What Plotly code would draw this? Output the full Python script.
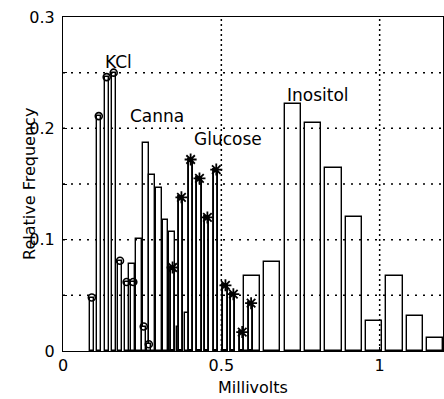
import plotly.graph_objects as go

# Histogram bins (millivolts) and relative frequencies for each solution
kcl_x = [0.091, 0.113, 0.138, 0.160, 0.180, 0.201, 0.222, 0.255, 0.271]
kcl_y = [0.048, 0.211, 0.246, 0.250, 0.081, 0.062, 0.062, 0.022, 0.006]

canna_x = [0.218, 0.240, 0.261, 0.282, 0.303, 0.324, 0.345, 0.368, 0.393]
canna_y = [0.078, 0.101, 0.187, 0.158, 0.146, 0.118, 0.107, 0.022, 0.034]

glucose_x = [0.346, 0.374, 0.403, 0.431, 0.456, 0.484, 0.513, 0.538, 0.566, 0.594]
glucose_y = [0.075, 0.138, 0.172, 0.155, 0.120, 0.163, 0.059, 0.051, 0.017, 0.043]

inositol_x = [0.597, 0.661, 0.725, 0.790, 0.854, 0.918, 0.982, 1.047, 1.111, 1.175]
inositol_y = [0.067, 0.080, 0.222, 0.205, 0.164, 0.120, 0.027, 0.067, 0.031, 0.012]

x_ticks = [0, 0.5, 1]
x_ticktext = ["0", "0.5", "1"]
y_grid = [0, 0.05, 0.1, 0.15, 0.2, 0.25, 0.3]
y_ticktext = ["0", "", "0.1", "", "0.2", "", "0.3"]

FONT = "DejaVu Sans, Verdana, sans-serif"


def bars(x, y, width, lw=1.4):
    return go.Bar(
        x=x, y=y, width=[width] * len(x),
        marker=dict(color="white", line=dict(color="black", width=lw)),
        showlegend=False, hoverinfo="x+y",
    )


fig = go.Figure()
fig.add_trace(bars(canna_x, canna_y, 0.018))
fig.add_trace(bars(kcl_x, kcl_y, 0.012))
fig.add_trace(bars(inositol_x, inositol_y, 0.051))
fig.add_trace(bars(glucose_x, glucose_y, 0.013, lw=1.9))

# Markers on top of the KCl and glucose bars
fig.add_trace(go.Scatter(
    x=kcl_x, y=kcl_y, mode="markers", showlegend=False,
    marker=dict(symbol="circle-open", size=7, color="black", line=dict(width=1.6)),
))
fig.add_trace(go.Scatter(
    x=glucose_x, y=glucose_y, mode="markers", showlegend=False,
    marker=dict(symbol="asterisk-open", size=10, color="black", line=dict(width=1.8)),
))

# Dotted grid drawn above the bars
for xv in x_ticks[1:]:
    fig.add_shape(type="line", xref="x", yref="paper", x0=xv, x1=xv, y0=0, y1=1,
                  line=dict(color="black", width=1.5, dash="2px,3px"), layer="above")
for yv in y_grid[1:-1]:
    fig.add_shape(type="line", xref="paper", yref="y", x0=0, x1=1, y0=yv, y1=yv,
                  line=dict(color="black", width=1.5, dash="2px,6px"), layer="above")

# Series labels
for txt, xv, yv in [("KCl", 0.176, 0.260), ("Canna", 0.298, 0.211),
                    ("Glucose", 0.52, 0.190), ("Inositol", 0.805, 0.230)]:
    fig.add_annotation(x=xv, y=yv, text=txt, showarrow=False,
                       font=dict(family=FONT, size=17, color="black"))

fig.add_annotation(text="Millivolts", xref="paper", yref="paper", x=0.5, y=-0.074,
                   yanchor="top", showarrow=False,
                   font=dict(family=FONT, size=16, color="black"))
fig.add_annotation(text="Relative Frequency", xref="paper", yref="paper", x=-0.12, y=0.5,
                   textangle=-90, showarrow=False,
                   font=dict(family=FONT, size=16, color="black"))

fig.update_layout(
    width=444, height=399,
    margin=dict(l=63, r=1, t=17, b=48),
    paper_bgcolor="white", plot_bgcolor="white",
    barmode="overlay", bargap=0,
    font=dict(family=FONT, size=16, color="black"),
    xaxis=dict(range=[0, 1.2], tickvals=x_ticks, ticktext=x_ticktext,
               showgrid=False, zeroline=False, showline=True, linecolor="black",
               linewidth=1.2, mirror=True, ticks="inside", ticklen=4,
               tickcolor="black", layer="above traces"),
    yaxis=dict(range=[0, 0.3], tickvals=y_grid, ticktext=y_ticktext,
               showgrid=False, zeroline=False, showline=True, linecolor="black",
               linewidth=1.2, mirror=True, ticks="inside", ticklen=4,
               tickcolor="black", layer="above traces", ticklabelstandoff=4),
)

fig.write_html("out.html")
